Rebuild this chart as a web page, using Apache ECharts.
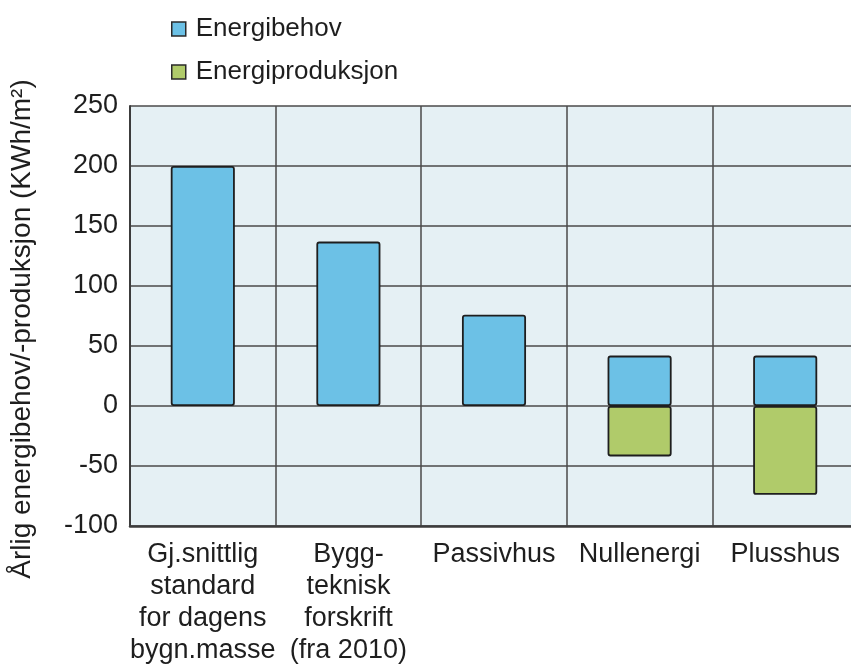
<!DOCTYPE html>
<html>
<head>
<meta charset="utf-8">
<script src="https://cdn.jsdelivr.net/npm/echarts@6/dist/echarts.min.js"></script>
<style>
  html, body { margin: 0; padding: 0; background: #ffffff; overflow: hidden; }
  /* the plot runs slightly past the right edge of the page */
  #chart { width: 860px; height: 664px; }
</style>
</head>
<body>
<div id="chart"></div>
<script>
// Building standards and their annual energy balance (kWh per m²)
const categories = [
  'Gj.snittlig\nstandard\nfor dagens\nbygn.masse',
  'Bygg-\nteknisk\nforskrift\n(fra 2010)',
  'Passivhus',
  'Nullenergi',
  'Plusshus'
];
const energibehov = [200, 137, 76, 42, 42];
const energiproduksjon = ['-', '-', '-', -42, -74];
const yTicks = { min: -100, max: 250, step: 50 };

const FONT = '"Liberation Sans", Arial, sans-serif';
const TEXT = '#1e1e1e';
const GRID_LINE = '#4a4a4a';

const chart = echarts.init(document.getElementById('chart'), null, { renderer: 'canvas' });

chart.setOption({
  animation: false,
  backgroundColor: '#ffffff',
  textStyle: { fontFamily: FONT },
  legend: {
    orient: 'vertical',
    left: 166,
    top: 8,
    itemWidth: 14,
    itemHeight: 14,
    itemGap: 11,
    icon: 'rect',
    textStyle: { fontSize: 26, color: TEXT, fontFamily: FONT, lineHeight: 32, padding: [0, 0, 0, 5] },
    itemStyle: { borderColor: '#2a2a2a', borderWidth: 1.5 },
    data: ['Energibehov', 'Energiproduksjon']
  },
  grid: {
    show: true,
    left: 130,
    top: 106,
    width: 728,
    height: 420,
    backgroundColor: '#e5f0f4',
    borderWidth: 0,
    containLabel: false,
    outerBoundsMode: 'none'
  },
  xAxis: {
    type: 'category',
    data: categories,
    boundaryGap: true,
    axisLine: { show: true, onZero: false, lineStyle: { color: '#3c3c3c', width: 2.5 } },
    axisTick: { show: false },
    splitLine: { show: true, interval: 0, lineStyle: { color: GRID_LINE, width: 1.5 } },
    axisLabel: {
      interval: 0,
      margin: 13,
      fontSize: 27,
      lineHeight: 32,
      color: TEXT,
      fontFamily: FONT,
      align: 'center'
    }
  },
  yAxis: {
    type: 'value',
    min: yTicks.min,
    max: yTicks.max,
    interval: yTicks.step,
    axisLine: { show: true, lineStyle: { color: '#3c3c3c', width: 2 } },
    axisTick: { show: false },
    splitLine: { show: true, lineStyle: { color: GRID_LINE, width: 1.5 } },
    axisLabel: { margin: 12, fontSize: 27, color: TEXT, fontFamily: FONT }
  },
  graphic: [{
    type: 'text',
    x: 22,
    y: 329,
    rotation: Math.PI / 2,
    style: {
      text: 'Årlig energibehov/-produksjon (KWh/m²)',
      font: '28px ' + FONT,
      fill: TEXT,
      textAlign: 'center',
      textVerticalAlign: 'middle'
    }
  }],
  series: [
    {
      name: 'Energibehov',
      type: 'bar',
      stack: 'balanse',
      barWidth: '44%',
      data: energibehov,
      itemStyle: { color: '#6cc1e6', borderColor: '#1e1e1e', borderWidth: 1.8, borderRadius: 2 }
    },
    {
      name: 'Energiproduksjon',
      type: 'bar',
      stack: 'balanse',
      barWidth: '44%',
      data: energiproduksjon,
      itemStyle: { color: '#b0cb6a', borderColor: '#1e1e1e', borderWidth: 1.8, borderRadius: 2 }
    }
  ]
});
</script>
</body>
</html>
